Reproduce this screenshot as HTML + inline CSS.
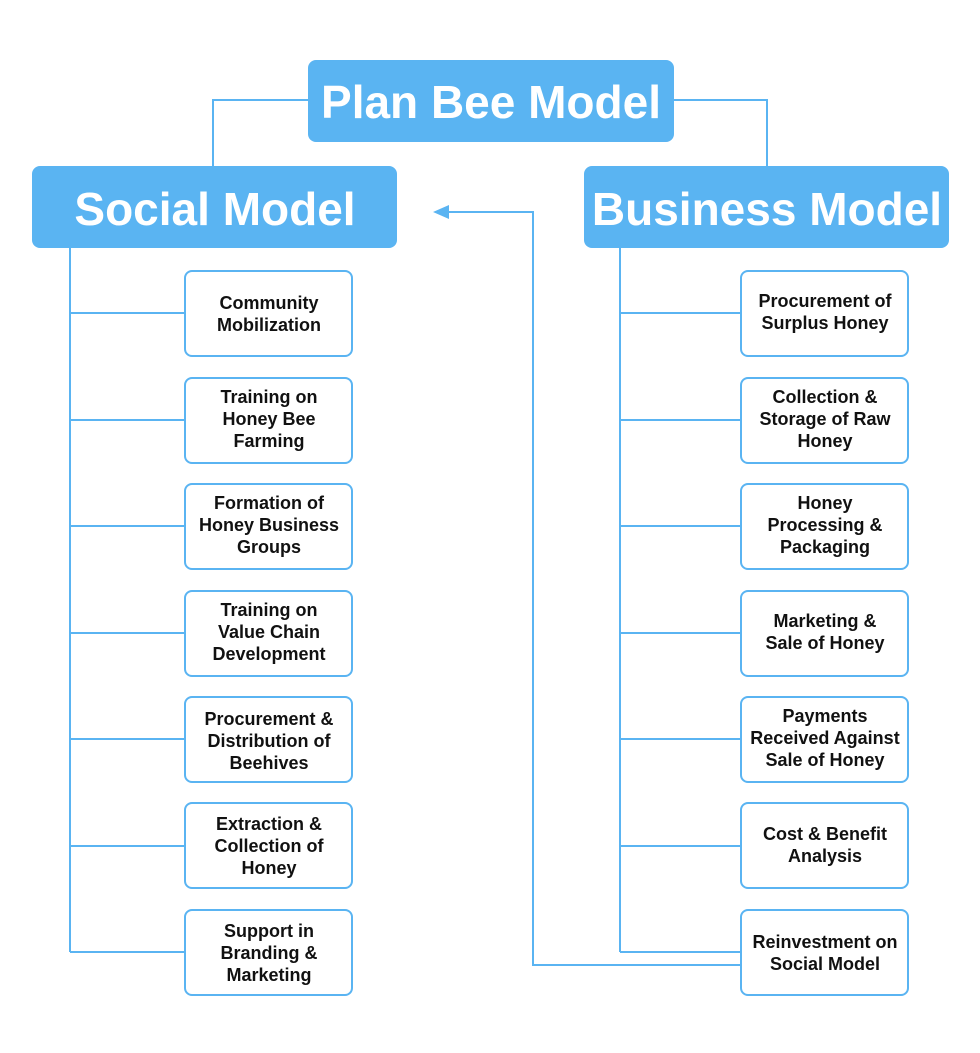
<!DOCTYPE html>
<html><head><style>
body{margin:0;background:#fff;width:980px;height:1053px;overflow:hidden}
svg{display:block}
text{font-family:"Liberation Sans",sans-serif;font-weight:bold}
.h{fill:#fff;text-anchor:middle}
.s{fill:#111;font-size:18px;text-anchor:middle}
.b{fill:#fff;stroke:#5ab4f2;stroke-width:2}
.l{stroke:#5ab4f2;stroke-width:2;fill:none}
</style></head><body>
<svg width="980" height="1053" viewBox="0 0 980 1053">
<path class="l" d="M308 100H213V166M674 100H767V166"/>
<rect x="308" y="60" width="366" height="82" rx="8" fill="#5ab4f2"/>
<text class="h" x="491" y="118" font-size="46">Plan Bee Model</text>
<rect x="32" y="166" width="365" height="82" rx="8" fill="#5ab4f2"/>
<text class="h" x="215" y="225" font-size="46">Social Model</text>
<rect x="584" y="166" width="365" height="82" rx="8" fill="#5ab4f2"/>
<text class="h" x="767" y="225" font-size="46">Business Model</text>
<path class="l" d="M70 248V952M620 248V952"/>
<path class="l" stroke-width="3" d="M741 965H533V212H445"/>
<polygon points="433,212 449,205 449,219" fill="#5ab4f2"/>
<path class="l" d="M70 313H185M70 420H185M70 526H185M70 633H185M70 739H185M70 846H185M70 952H185"/>
<rect class="b" x="185" y="271" width="167" height="85" rx="7"/>
<rect class="b" x="185" y="378" width="167" height="85" rx="7"/>
<rect class="b" x="185" y="484" width="167" height="85" rx="7"/>
<rect class="b" x="185" y="591" width="167" height="85" rx="7"/>
<rect class="b" x="185" y="697" width="167" height="85" rx="7"/>
<rect class="b" x="185" y="803" width="167" height="85" rx="7"/>
<rect class="b" x="185" y="910" width="167" height="85" rx="7"/>
<path class="l" d="M620 313H741M620 420H741M620 526H741M620 633H741M620 739H741M620 846H741M620 952H741"/>
<rect class="b" x="741" y="271" width="167" height="85" rx="7"/>
<rect class="b" x="741" y="378" width="167" height="85" rx="7"/>
<rect class="b" x="741" y="484" width="167" height="85" rx="7"/>
<rect class="b" x="741" y="591" width="167" height="85" rx="7"/>
<rect class="b" x="741" y="697" width="167" height="85" rx="7"/>
<rect class="b" x="741" y="803" width="167" height="85" rx="7"/>
<rect class="b" x="741" y="910" width="167" height="85" rx="7"/>
<g class="s">
<text class="s" x="269" y="309">Community</text><text class="s" x="269" y="331">Mobilization</text>
<text class="s" x="269" y="403">Training on</text><text class="s" x="269" y="425">Honey Bee</text><text class="s" x="269" y="447">Farming</text>
<text class="s" x="269" y="509">Formation of</text><text class="s" x="269" y="531">Honey Business</text><text class="s" x="269" y="553">Groups</text>
<text class="s" x="269" y="616">Training on</text><text class="s" x="269" y="638">Value Chain</text><text class="s" x="269" y="660">Development</text>
<text class="s" x="269" y="725">Procurement &amp;</text><text class="s" x="269" y="747">Distribution of</text><text class="s" x="269" y="769">Beehives</text>
<text class="s" x="269" y="830">Extraction &amp;</text><text class="s" x="269" y="852">Collection of</text><text class="s" x="269" y="874">Honey</text>
<text class="s" x="269" y="937">Support in</text><text class="s" x="269" y="959">Branding &amp;</text><text class="s" x="269" y="981">Marketing</text>
<text class="s" x="825" y="307">Procurement of</text><text class="s" x="825" y="329">Surplus Honey</text>
<text class="s" x="825" y="403">Collection &amp;</text><text class="s" x="825" y="425">Storage  of Raw</text><text class="s" x="825" y="447">Honey</text>
<text class="s" x="825" y="509">Honey</text><text class="s" x="825" y="531">Processing &amp;</text><text class="s" x="825" y="553">Packaging</text>
<text class="s" x="825" y="627">Marketing  &amp;</text><text class="s" x="825" y="649">Sale of Honey</text>
<text class="s" x="825" y="722">Payments</text><text class="s" x="825" y="744">Received Against</text><text class="s" x="825" y="766">Sale of Honey</text>
<text class="s" x="825" y="840">Cost &amp; Benefit</text><text class="s" x="825" y="862">Analysis</text>
<text class="s" x="825" y="948">Reinvestment on</text><text class="s" x="825" y="970">Social Model</text>
</g>
</svg>
</body></html>
